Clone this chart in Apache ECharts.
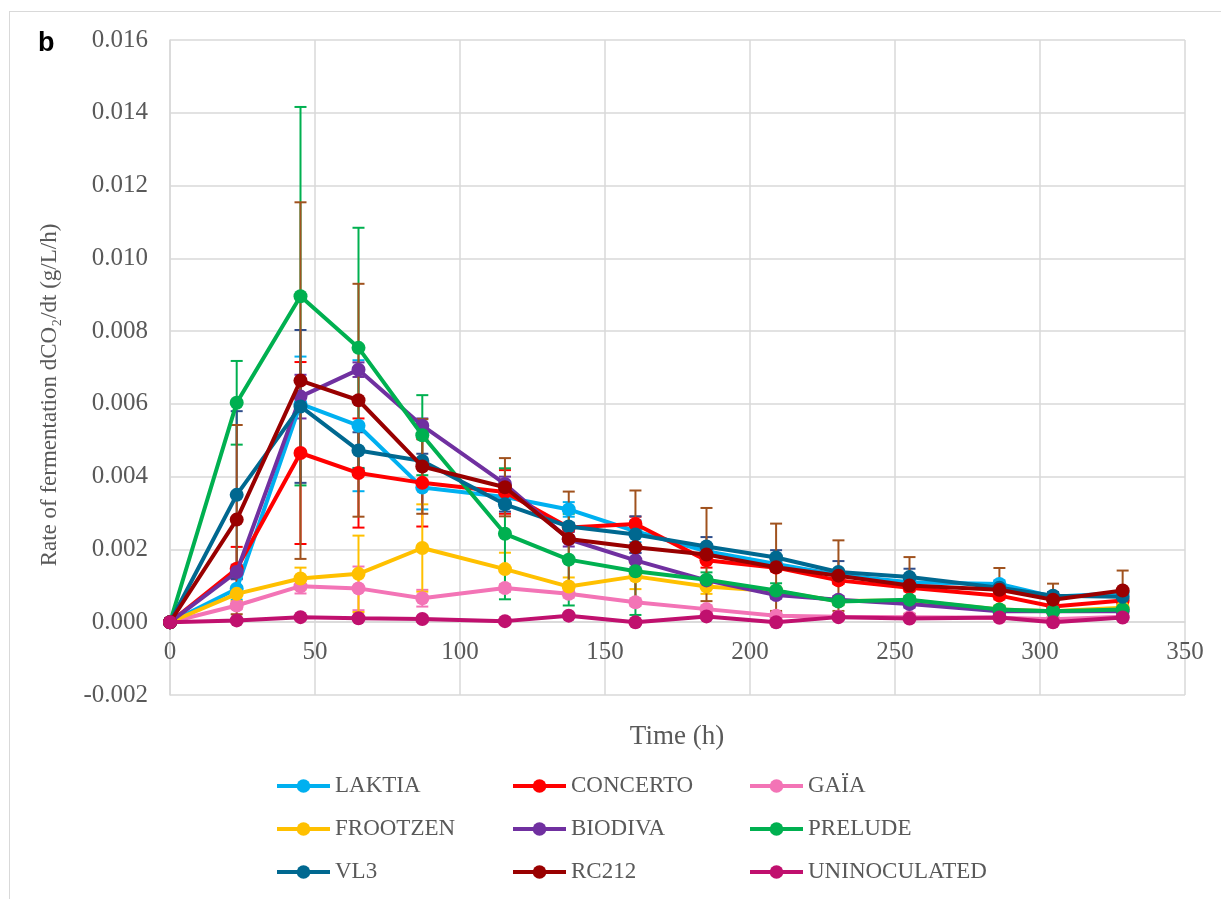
<!DOCTYPE html>
<html>
<head>
<meta charset="utf-8">
<script src="https://cdn.jsdelivr.net/npm/echarts@6/dist/echarts.min.js"></script>
<style>
html,body{margin:0;padding:0;background:#fff;}
#frame{position:absolute;left:9px;top:11px;width:1230px;height:900px;border:1px solid #D9D9D9;box-sizing:border-box;}
#chart{position:absolute;left:0;top:0;width:1221px;height:899px;}
</style>
</head>
<body>
<div id="frame"></div>
<div id="chart"></div>
<script>
// ---- data ----
const times = [0, 23, 45, 65, 87, 115.5, 137.5, 160.5, 185, 209, 230.5, 255, 286, 304.5, 328.5];
const seriesNames = ['LAKTIA','CONCERTO','GAÏA','FROOTZEN','BIODIVA','PRELUDE','VL3','RC212','UNINOCULATED'];

const laktia   = [0, 0.00092, 0.0060, 0.0054, 0.0037, 0.00344, 0.0031, 0.0025, 0.00195, 0.0016, 0.0013, 0.0011, 0.00105, 0.0007, 0.0008];
const concerto = [0, 0.00147, 0.00465, 0.0041, 0.00383, 0.00358, 0.0026, 0.0027, 0.0017, 0.0015, 0.00115, 0.00095, 0.00073, 0.00043, 0.0006];
const gaia     = [0, 0.00046, 0.00099, 0.00093, 0.00066, 0.00094, 0.00078, 0.00055, 0.00036, 0.00018, 0.00015, 0.00014, 0.00012, 0.00008, 0.00015];
const frootzen = [0, 0.00078, 0.0012, 0.00133, 0.00204, 0.00146, 0.00098, 0.00126, 0.00098, 0.00085, 0.00058, 0.0006, 0.00035, 0.0003, 0.0004];
const biodiva  = [0, 0.00138, 0.0062, 0.00694, 0.0054, 0.0038, 0.00228, 0.0017, 0.00115, 0.00075, 0.00062, 0.0005, 0.0003, 0.0003, 0.0003];
const prelude  = [0, 0.00603, 0.00896, 0.00754, 0.00514, 0.00243, 0.00172, 0.0014, 0.00117, 0.00087, 0.00057, 0.00062, 0.00035, 0.0003, 0.00035];
const vl3      = [0, 0.0035, 0.00593, 0.00472, 0.00443, 0.00324, 0.00263, 0.00241, 0.00208, 0.00178, 0.00138, 0.00124, 0.00095, 0.00073, 0.0007];
const rc212    = [0, 0.00282, 0.00664, 0.0061, 0.00428, 0.00371, 0.00229, 0.00206, 0.00186, 0.00151, 0.00128, 0.00101, 0.00089, 0.00062, 0.00087];
const uninoc   = [0, 0.00005, 0.00014, 0.00011, 0.00009, 0.00003, 0.00018, 0.0, 0.00016, 0.0, 0.00014, 0.0001, 0.00013, 0.0, 0.00013];

// error bar half-widths (standard deviations)
const laktiaErr   = [0, 0.0003, 0.0013, 0.0018, 0.0006, 0.0003, 0.0002, 0.0003, 0.0002, 0.0002, 0.0001, 0.0001, 0.0001, 0.0001, 0.0001];
const concertoErr = [0, 0.0006, 0.0025, 0.0015, 0.0012, 0.0006, 0.0001, 0.0002, 0.0002, 0.0001, 0.0001, 0.0001, 0.0001, 0.0001, 0.0001];
const gaiaErr     = [0, 0.0001, 0.0002, 0.0006, 0.00023, 0.0001, 0.0001, 0.0001, 0.0001, 0.0001, 0.00005, 0.00005, 0.00005, 0.00005, 0.00005];
const frootzenErr = [0, 0.0002, 0.0003, 0.00105, 0.0012, 0.00045, 0.00025, 0.00035, 0.0002, 0.0001, 0.0001, 0.0001, 0.0001, 0.0001, 0.0001];
const biodivaErr  = [0, 0.0002, 0.0006, 0.0002, 0.0002, 0.0002, 0.0002, 0.0002, 0.0001, 0.0001, 0.0001, 0.0001, 0.0001, 0.0001, 0.0001];
const preludeErr  = [0, 0.00115, 0.0052, 0.0033, 0.0011, 0.0018, 0.00126, 0.0012, 0.0002, 0.0002, 0.0001, 0.0001, 0.0001, 0.0001, 0.0001];
const vl3Err      = [0, 0.0023, 0.0021, 0.0005, 0.0002, 0.0002, 0.0001, 0.0005, 0.00026, 0.0002, 0.0003, 0.00023, 0.0001, 0.0001, 0.0001];
const rc212Err    = [0, 0.0026, 0.0049, 0.0032, 0.0013, 0.0008, 0.0013, 0.00156, 0.00128, 0.0012, 0.00097, 0.00078, 0.0006, 0.00044, 0.00055];
const uninocErr   = [0, 0.00002, 0.00002, 0.00002, 0.00002, 0.00002, 0.00002, 0.00002, 0.00002, 0.00002, 0.00002, 0.00002, 0.00002, 0.00002, 0.00002];

const xTicks = { min: 0, max: 350, interval: 50 };
const yTicks = { min: -0.002, max: 0.016, interval: 0.002 };

// ---- styles ----
const lineColors = ['#00B0F0','#FF0000','#F374B6','#FFC000','#7030A0','#00B050','#006890','#990000','#C0106E'];
const errColors  = ['#00B0F0','#FF0000','#F374B6','#FFC000','#7030A0','#00B050','#2F4E8C','#A0521E','#C0106E'];
const values = [laktia, concerto, gaia, frootzen, biodiva, prelude, vl3, rc212, uninoc];
const errors = [laktiaErr, concertoErr, gaiaErr, frootzenErr, biodivaErr, preludeErr, vl3Err, rc212Err, uninocErr];

const FONT = '"Liberation Serif", "DejaVu Serif", serif';
const chart = echarts.init(document.getElementById('chart'), null, {renderer: 'canvas'});

const series = [];
// error bars (below lines)
values.forEach((vals, i) => {
  series.push({
    type: 'custom',
    name: seriesNames[i] + '_err',
    z: 1,
    silent: true,
    data: times.map((t, k) => [t, vals[k], errors[i][k]]),
    renderItem: function (params, api) {
      const x = api.value(0), y = api.value(1), e = api.value(2);
      if (!e) return null;
      const top = api.coord([x, y + e]);
      const bot = api.coord([x, y - e]);
      const cw = 6;
      const st = { stroke: errColors[i], lineWidth: 2 };
      return {
        type: 'group',
        children: [
          { type: 'line', shape: { x1: top[0], y1: top[1], x2: bot[0], y2: bot[1] }, style: st },
          { type: 'line', shape: { x1: top[0] - cw, y1: top[1], x2: top[0] + cw, y2: top[1] }, style: st },
          { type: 'line', shape: { x1: bot[0] - cw, y1: bot[1], x2: bot[0] + cw, y2: bot[1] }, style: st }
        ]
      };
    }
  });
});
values.forEach((vals, i) => {
  series.push({
    type: 'line',
    name: seriesNames[i],
    z: 2 + i,
    data: times.map((t, k) => [t, vals[k]]),
    symbol: 'circle',
    symbolSize: 14,
    showSymbol: true,
    color: lineColors[i],
    lineStyle: { width: 4, color: lineColors[i] },
    itemStyle: { color: lineColors[i] }
  });
});

const legendCols = [[0, 3, 6], [1, 4, 7], [2, 5, 8]];
const legendLeft = [275, 511, 748];
const legends = legendCols.map((col, c) => ({
  orient: 'vertical',
  left: legendLeft[c],
  top: 774,
  padding: 0,
  itemWidth: 53,
  itemHeight: 17,
  itemGap: 19,
  selectedMode: false,
  lineStyle: { width: 4 },
  data: col.map(k => seriesNames[k]),
  textStyle: { fontFamily: FONT, fontSize: 23, color: '#595959', lineHeight: 24, padding: [0, 0, 0, 0] }
}));

chart.setOption({
  animation: false,
  backgroundColor: 'transparent',
  grid: { left: 170, right: 36, top: 40, bottom: 204, containLabel: false },
  legend: legends,
  xAxis: {
    type: 'value',
    min: xTicks.min, max: xTicks.max, interval: xTicks.interval,
    position: 'bottom',
    offset: -73,
    axisLine: { show: true, onZero: false, lineStyle: { color: '#D9D9D9', width: 1.5 } },
    axisTick: { show: false },
    axisLabel: { fontFamily: FONT, fontSize: 25, color: '#595959', margin: 18 },
    splitLine: { show: true, lineStyle: { color: '#D9D9D9', width: 1.5 } }
  },
  yAxis: {
    type: 'value',
    min: yTicks.min, max: yTicks.max, interval: yTicks.interval,
    axisLine: { show: true, lineStyle: { color: '#D9D9D9', width: 1.5 } },
    axisTick: { show: false },
    axisLabel: {
      fontFamily: FONT, fontSize: 25, color: '#595959', margin: 22,
      formatter: v => v.toFixed(3)
    },
    splitLine: { show: true, lineStyle: { color: '#D9D9D9', width: 1.5 } }
  },
  graphic: [
    { type: 'text', left: 38, top: 30, style: { text: 'b', font: 'bold 27px "Liberation Sans", Arial, sans-serif', fill: '#000' } },
    { type: 'text', x: 677, y: 737, style: { text: 'Time (h)', font: '27px ' + FONT, fill: '#595959', align: 'center', verticalAlign: 'middle' } },
    { type: 'text', x: 50, y: 395, rotation: Math.PI / 2, style: { text: 'Rate of fermentation dCO₂/dt (g/L/h)', font: '23px ' + FONT, fill: '#595959', align: 'center', verticalAlign: 'middle' } }
  ],
  series: series
});
</script>
</body>
</html>
